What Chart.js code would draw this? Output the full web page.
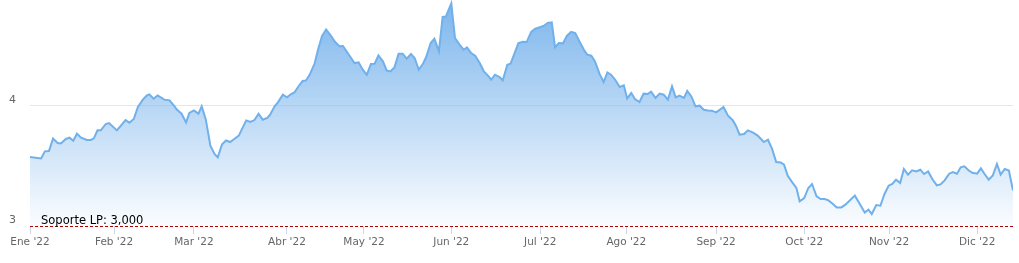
<!DOCTYPE html>
<html>
<head>
<meta charset="utf-8">
<script src="https://cdn.jsdelivr.net/npm/chart.js@4/dist/chart.umd.min.js"></script>
<style>
  body { margin: 0; background: #fff; }
</style>
</head>
<body>
<canvas id="canvas" width="1019" height="263"></canvas>
<script>
// trading-day position (0 = first session of Jan '22) and closing value
const dayPos = [
  0, 2.7, 3.6, 4.6, 5.6, 6.7, 7.5, 8.7, 9.6, 10.5, 11.4, 12.4, 13.8, 14.8, 15.5, 16.4, 17.2, 18.4, 19.2, 21.1,
  23.2, 24.1, 25.2, 26.2, 27.4, 28.4, 29.0, 30.0, 31.0, 32.6, 33.9,
  35.1, 35.7, 36.8, 37.9, 38.7, 39.8, 40.9, 41.7, 42.7, 43.8, 44.8, 45.6, 46.6, 47.6, 48.6, 49.6, 50.7, 52.5,
  53.5, 54.5, 55.5, 56.5, 57.6, 58.3, 59.4, 60.2, 61.4, 62.4, 63.4, 64.2, 65.3, 66.2, 67.0, 67.9,
  69.1, 69.9, 70.9, 71.9, 73.0, 74.1, 75.2, 76.0, 77.6, 78.8, 79.8, 80.8, 81.8, 82.8, 83.7, 84.6, 85.7, 86.6,
  87.5, 88.5, 89.5, 90.5, 91.5, 92.5, 93.4, 94.4, 95.4, 96.2, 97.3, 98.2, 99.3, 100.2, 101.0, 102.3,
  103.2, 104.3, 105.3, 106.1, 107.1, 108.1, 109.2, 110.2, 111.2, 112.0, 112.9, 114.0, 114.8, 115.9, 116.7,
  117.7, 118.6, 119.7, 120.6, 121.7, 122.7, 124.0, 124.8, 125.7, 126.7, 127.5, 128.4, 129.4, 130.4, 131.4,
  132.4, 133.4, 134.5, 135.3, 136.3,
  137.2, 138.3, 139.3, 140.2, 141.1, 142.1, 143.2, 144.2, 145.0, 146.0, 146.9, 148.0, 149.0, 150.0, 150.8,
  151.9, 152.9, 153.9, 154.9, 155.9, 156.8, 157.7, 158.8, 159.6, 160.6, 161.6, 162.6, 163.6, 164.6, 165.6,
  166.6, 167.5, 168.4, 169.5,
  170.7, 171.5, 172.3, 173.4, 174.3, 175.5, 176.7, 178.2, 179.2, 180.2, 181.2, 182.3, 183.1, 184.0, 185.1,
  186.1, 186.9, 188.0, 189.0, 189.9, 191.0, 192.0, 193.0, 193.9, 194.9, 195.9, 197.0, 198.0, 199.0, 200.3,
  201.6, 202.7, 203.6,
  204.4, 205.5, 206.5, 207.5, 208.5, 209.4, 210.3, 211.3, 212.2, 213.2, 214.2, 215.2, 216.2, 217.1, 218.1,
  219.1, 220.2, 221.1, 222.1, 223.2, 224.1, 225.1, 226.0, 226.9, 227.9, 228.8, 230.0, 230.9, 231.8, 232.8,
  233.8, 234.8, 235.7, 236.7, 237.7, 238.7
];
const price = [
  3.575, 3.563, 3.622, 3.625, 3.728, 3.692, 3.688, 3.725, 3.736, 3.711, 3.769, 3.736, 3.717, 3.717, 3.730, 3.797, 3.797, 3.850, 3.858, 3.797,
  3.883, 3.861, 3.892, 3.992, 4.053, 4.088, 4.097, 4.061, 4.088, 4.053, 4.047,
  3.997, 3.969, 3.936, 3.863, 3.942, 3.963, 3.936, 3.997, 3.886, 3.669, 3.600, 3.572, 3.678, 3.713, 3.700, 3.725, 3.753, 3.880,
  3.867, 3.883, 3.936, 3.886, 3.900, 3.928, 3.997, 4.030, 4.094, 4.072, 4.100, 4.113, 4.169, 4.208, 4.213, 4.260,
  4.352, 4.464, 4.583, 4.638, 4.588, 4.533, 4.497, 4.500, 4.419, 4.358, 4.364, 4.303, 4.261, 4.350, 4.353, 4.422, 4.372, 4.297,
  4.288, 4.322, 4.436, 4.436, 4.394, 4.433, 4.400, 4.303, 4.350, 4.408, 4.525, 4.561, 4.456, 4.742, 4.747, 4.855,
  4.567, 4.511, 4.469, 4.488, 4.442, 4.419, 4.358, 4.289, 4.253, 4.219, 4.261, 4.242, 4.214, 4.344, 4.353,
  4.442, 4.525, 4.536, 4.533, 4.617, 4.644, 4.658, 4.669, 4.692, 4.697, 4.489, 4.525, 4.522, 4.586, 4.617,
  4.608, 4.539, 4.469, 4.428, 4.419,
  4.372, 4.267, 4.200, 4.280, 4.261, 4.219, 4.158, 4.172, 4.063, 4.108, 4.058, 4.033, 4.103, 4.100, 4.119,
  4.067, 4.103, 4.094, 4.053, 4.164, 4.072, 4.086, 4.067, 4.125, 4.080, 3.997, 4.003, 3.969, 3.963, 3.961,
  3.947, 3.969, 3.992, 3.919,
  3.880, 3.830, 3.761, 3.767, 3.797, 3.780, 3.753, 3.700, 3.719, 3.642, 3.533, 3.530, 3.511, 3.419, 3.364,
  3.317, 3.205, 3.233, 3.317, 3.350, 3.247, 3.225, 3.225, 3.213, 3.186, 3.155, 3.155, 3.178, 3.211, 3.253,
  3.178, 3.113, 3.136,
  3.100, 3.175, 3.169, 3.267, 3.336, 3.350, 3.386, 3.358, 3.475, 3.428, 3.464, 3.455, 3.469, 3.433, 3.455,
  3.392, 3.339, 3.347, 3.380, 3.436, 3.450, 3.436, 3.489, 3.497, 3.464, 3.444, 3.436, 3.480, 3.433, 3.386,
  3.422, 3.517, 3.428, 3.475, 3.463, 3.297
];

const monthPos = [0, 20.4, 39.8, 62.4, 81.1, 102.3, 123.9, 144.8, 166.6, 188.0, 208.6, 230.0];
const monthLabels = ["Ene '22", "Feb '22", "Mar '22", "Abr '22", "May '22", "Jun '22",
  "Jul '22", "Ago '22", "Sep '22", "Oct '22", "Nov '22", "Dic '22"];
const yTicks = [3, 4];

const supportLevel = 3;
const supportLabel = 'Soporte LP: 3,000';

window.addEventListener('load', setup);

function setup() {
  const ctx = document.getElementById('canvas').getContext('2d');

  const points = dayPos.map((d, i) => ({ x: d, y: price[i] }));

  // red dashed support line + its label
  const supportLine = {
    id: 'supportLine',
    afterDatasetsDraw(chart) {
      const c = chart.ctx;
      const area = chart.chartArea;
      const y = Math.round(chart.scales.y.getPixelForValue(supportLevel)) + 0.5;
      c.save();
      c.strokeStyle = '#aa0000';
      c.lineWidth = 1;
      c.setLineDash([3, 2]);
      c.beginPath();
      c.moveTo(area.left, y);
      c.lineTo(area.right, y);
      c.stroke();
      c.setLineDash([]);
      c.fillStyle = '#000';
      c.font = '11.5px "DejaVu Sans"';
      c.textBaseline = 'alphabetic';
      c.fillText(supportLabel, area.left + 11, y - 3);
      c.restore();
    }
  };

  new Chart(ctx, {
    type: 'line',
    data: {
      datasets: [{
        data: points,
        borderColor: 'rgb(112, 176, 235)',
        borderWidth: 2,
        pointRadius: 0,
        tension: 0,
        fill: 'start',
        backgroundColor: function (context) {
          const area = context.chart.chartArea;
          if (!area) return 'rgba(124,181,236,0.4)';
          const g = context.chart.ctx.createLinearGradient(0, area.top, 0, area.bottom);
          g.addColorStop(0, 'rgba(124, 181, 236, 1)');
          g.addColorStop(1, 'rgba(124, 181, 236, 0.03)');
          return g;
        }
      }]
    },
    options: {
      responsive: false,
      animation: false,
      layout: { padding: { left: 9, right: 6, top: 0, bottom: 0 } },
      plugins: { legend: { display: false }, tooltip: { enabled: false } },
      scales: {
        x: {
          type: 'linear',
          min: 0,
          max: dayPos[dayPos.length - 1],
          afterBuildTicks: (scale) => { scale.ticks = monthPos.map(v => ({ value: v })); },
          afterFit: (scale) => {
            scale.height = 37;
            scale.paddingLeft = 0;
            scale.paddingRight = 0;
          },
          border: { display: false },
          grid: { drawOnChartArea: false, drawTicks: true, tickLength: 8, color: '#ccd6eb' },
          ticks: {
            maxRotation: 0,
            autoSkip: false,
            padding: 2,
            color: '#666',
            font: { family: 'DejaVu Sans', size: 10.5 },
            callback: (value, index) => monthLabels[index]
          }
        },
        y: {
          min: 3,
          max: 3 + 226 / 120,
          afterBuildTicks: (scale) => { scale.ticks = yTicks.map(v => ({ value: v })); },
          afterFit: (scale) => {
            scale.width = 21;
            scale.paddingTop = 0;
            scale.paddingBottom = 0;
          },
          border: { display: false },
          grid: {
            drawTicks: false,
            color: (c) => (c.tick && c.tick.value === 4 ? '#e6e6e6' : 'rgba(0,0,0,0)')
          },
          ticks: {
            crossAlign: 'far',
            labelOffset: -6,
            padding: 0,
            color: '#666',
            font: { family: 'DejaVu Sans', size: 11 },
            callback: (value) => String(value)
          }
        }
      }
    },
    plugins: [supportLine]
  });
}
</script>
</body>
</html>
